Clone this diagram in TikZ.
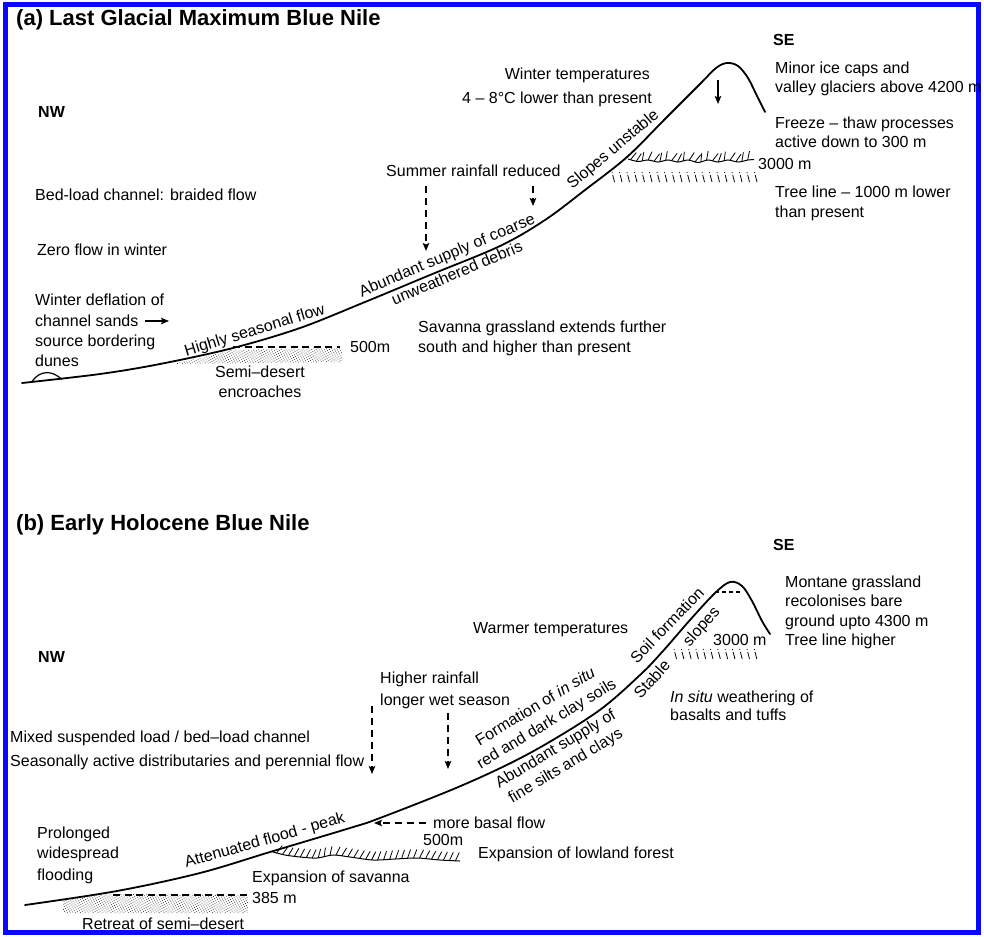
\documentclass[tikz,border=0pt]{standalone}
\usepackage{fontspec}
\setmainfont{Liberation Sans}
\usetikzlibrary{arrows.meta, decorations.markings, patterns.meta}
\definecolor{frameblue}{RGB}{8,8,250}

\begin{document}
\begin{tikzpicture}[x=1pt, y=-1pt,
  txt/.style={font=\fontsize{16}{19}\selectfont, inner sep=0pt, anchor=base west},
  txtc/.style={txt, anchor=base},
  txtr/.style={txt, anchor=base east},
  ttl/.style={font=\fontsize{22}{25}\selectfont\bfseries, inner sep=0pt, anchor=base west},
  dirn/.style={font=\fontsize{16}{19}\selectfont\bfseries, inner sep=0pt, anchor=base west},
  profile/.style={line width=1.8pt, line join=round, line cap=round},
  levelline/.style={line width=1.6pt, dash pattern=on 7pt off 4.5pt},
  rainarrow/.style={line width=1.3pt, dash pattern=on 7pt off 5pt, -{Stealth[length=8pt, width=6.5pt, inset=1.5pt]}},
  solidarrow/.style={line width=1.3pt, -{Stealth[length=8pt, width=6.5pt, inset=1.5pt]}},
  hatchbase/.style={line width=1pt, postaction={decorate, decoration={markings,
      mark=between positions 0.02 and 0.99 step 6pt with {\draw[line width=0.8pt] (0pt,0pt) -- (3.5pt,8.5pt);}}}},
  treetick/.style={line width=0.8pt, dash pattern=on 1pt off 2pt on 8pt off 10pt},
  stipple/.style={pattern={Dots[distance=2.2pt, radius=0.5pt, angle=30]}, pattern color=black!80},
]
\useasboundingbox (0,0) rectangle (984,936);
\fill[white] (0,0) rectangle (984,936);
\draw[frameblue, line width=5.5pt] (5.5,4.5) rectangle (978.5,932.5);

%% ---------------- (a) Last Glacial Maximum ----------------
\node[ttl] (ta) at (16,26) {(a) Last Glacial Maximum Blue Nile};
\node[dirn] (nwa) at (38,117.5) {NW};
\node[dirn] (sea) at (773,45.5) {SE};

% stippled semi-desert below the valley floor
\fill[stipple] (172,364) -- (200,358) -- (232,350) -- (342,348) -- (342,362) -- cycle;
\draw[levelline] (233,347) -- (340,347);
\node[txt] (l500a) at (350,352.5) {500m};

% ice cap hatching and tree line
\draw[hatchbase] plot[smooth] coordinates {(628,159) (638,161.5) (648,160) (658,162) (668,160) (678,162) (688,160) (698,162.5) (708,160) (718,162) (728,160) (738,162) (748,160) (754,159.5)};
\foreach \x in {612,619.5,...,760} \draw[treetick] (\x,172) -- ++(2.5,10);

% valley profile
\draw[profile] plot[smooth, tension=0.55] coordinates {(22,383) (100,374) (160,364) (233,348) (300,328) (365,302) (430,275) (500,246) (545,220) (585,190) (627,157) (665,119) (700,84) (716,68) (727,63) (738,66) (748,78) (757,96) (765,112)};
% bordering dune
\draw[line width=1.2pt] (32,381.5) .. controls (40,370) and (52,370) .. (62,379.5);

% slope labels
\node[txtc, rotate=17] (hsf) at (256,335) {Highly seasonal flow};
\node[txtc, rotate=23] (asc) at (449,260) {Abundant supply of coarse};
\node[txtc, rotate=23] (uwd) at (459,278) {unweathered debris};
\node[txtc, rotate=40] (slu) at (616,153) {Slopes unstable};

% left-hand notes
\node[txt] (bed) at (35,200.5) {Bed-load channel: braided flow};
\node[txt] (zero) at (37,255.5) {Zero flow in winter};
\node[txt] (wd1) at (35,305.5) {Winter deflation of};
\node[txt] (wd2) at (35,326.5) {channel sands};
\node[txt] (wd3) at (35,346.5) {source bordering};
\node[txt] (wd4) at (35,366.5) {dunes};
\coordinate (wdA) at (145,321);
\coordinate (wdB) at (169,321);
\draw[solidarrow] (wdA) -- (wdB);

\node[txtc] (sd1) at (260,377.5) {Semi–desert};
\node[txtc] (sd2) at (260,397.5) {encroaches};
\node[txt] (sav1) at (418,332.5) {Savanna grassland extends further};
\node[txt] (sav2) at (418,352.5) {south and higher than present};

% rainfall
\node[txt] (srr) at (386,176) {Summer rainfall reduced};
\coordinate (ra1) at (426,186);
\coordinate (ra1e) at (426,251);
\coordinate (ra2) at (533,186);
\coordinate (ra2e) at (533,206);
\draw[rainarrow] (ra1) -- (ra1e);
\draw[rainarrow] (ra2) -- (ra2e);

% temperature
\node[txtr] (wt1) at (650,80) {Winter temperatures};
\node[txtr] (wt2) at (652,103.5) {4 – 8°C lower than present};
\coordinate (pk1) at (718,80);
\coordinate (pk1e) at (718,104);
\draw[solidarrow] (pk1) -- (pk1e);

% right-hand notes
\node[txt] (ic1) at (775,73.5) {Minor ice caps and};
\node[txt] (ic2) at (775,93) {valley glaciers above 4200 m};
\node[txt] (ft1) at (775,128.5) {Freeze – thaw processes};
\node[txt] (ft2) at (775,147.5) {active down to 300 m};
\node[txt] (l3000a) at (758,170) {3000 m};
\node[txt] (tl1) at (775,197.5) {Tree line – 1000 m lower};
\node[txt] (tl2) at (775,217.5) {than present};

%% ---------------- (b) Early Holocene ----------------
\node[ttl] (tb) at (16,530) {(b) Early Holocene Blue Nile};
\node[dirn] (nwb) at (38,662.5) {NW};
\node[dirn] (seb) at (773,550.5) {SE};

% stippled retreating semi-desert
\fill[stipple] (63,900) -- (90,896) -- (113,894) -- (248,895) -- (248,913) -- (63,913) -- cycle;
\draw[levelline] (113,895) -- (247,895);
\node[txt] (l385) at (252,903.5) {385 m};

% savanna hatching
\draw[hatchbase] plot[smooth] coordinates {(273,852) (285,855) (300,857) (317,858) (333,855) (350,857) (373,860) (395,859) (417,858) (440,860) (460,861)};
\node[txt] (l500b) at (423,845.5) {500m};

% tree line ticks
\foreach \x in {674,681.3,...,760} \draw[treetick] (\x,649) -- ++(2.5,10);

% valley profile
\draw[profile] plot[smooth, tension=0.55] coordinates {(25,905) (117,891) (200,873) (270,852) (350,828) (380,818) (463,785) (530,753) (597,712) (640,675) (663,651) (690,620) (715,593) (730,582) (742,586) (752,601) (762,621) (770,634)};
\draw[line width=1.5pt, dash pattern=on 4pt off 3pt] (715,592) -- (742,592);

% slope labels
\node[txtc, rotate=16] (afp) at (266,845) {Attenuated flood - peak};
\node[txtc, rotate=31] (fis1) at (538,711) {Formation of \textit{in situ}};
\node[txtc, rotate=31] (fis2) at (549,728) {red and dark clay soils};
\node[txtc, rotate=31] (asf1) at (558,753) {Abundant supply of};
\node[txtc, rotate=31] (asf2) at (568,770) {fine silts and clays};
\node[txtc, rotate=46] (soil) at (671,629) {Soil formation};
\node[txtc, rotate=48] (stab) at (656,683) {Stable};
\node[txtc, rotate=48] (slp) at (705,630) {slopes};

% left-hand notes
\node[txt] (mix) at (10,742.5) {Mixed suspended load / bed–load channel};
\node[txt] (sea1) at (10,766.5) {Seasonally active distributaries and perennial flow};
\node[txt] (pf1) at (37,838.5) {Prolonged};
\node[txt] (pf2) at (37,858.5) {widespread};
\node[txt] (pf3) at (37,880) {flooding};
\node[txt] (exs) at (252,882.5) {Expansion of savanna};
\node[txt] (rsd) at (82,929) {Retreat of semi–desert};

% rainfall and flow
\node[txt] (hr1) at (380,683.5) {Higher rainfall};
\node[txt] (hr2) at (380,705.5) {longer wet season};
\coordinate (rb1) at (372,706);
\coordinate (rb1e) at (372,774);
\coordinate (rb2) at (448,713);
\coordinate (rb2e) at (448,769);
\draw[rainarrow] (rb1) -- (rb1e);
\draw[rainarrow] (rb2) -- (rb2e);
\node[txt] (mbf) at (433,828.5) {more basal flow};
\coordinate (mbA) at (426,823);
\coordinate (mbB) at (374,823);
\draw[rainarrow] (mbA) -- (mbB);
\node[txt] (elf) at (478,858.5) {Expansion of lowland forest};

% upper slope notes
\node[txt] (wrm) at (473,633.5) {Warmer temperatures};
\node[txt] (l3000b) at (713,645.5) {3000 m};
\node[txt] (isw1) at (670,702.5) {\textit{In situ} weathering of};
\node[txt] (isw2) at (670,720.5) {basalts and tuffs};
\node[txt] (mg1) at (785,587.5) {Montane grassland};
\node[txt] (mg2) at (785,606.5) {recolonises bare};
\node[txt] (mg3) at (785,626.5) {ground upto 4300 m};
\node[txt] (mg4) at (785,645.5) {Tree line higher};
\end{tikzpicture}
\end{document}
